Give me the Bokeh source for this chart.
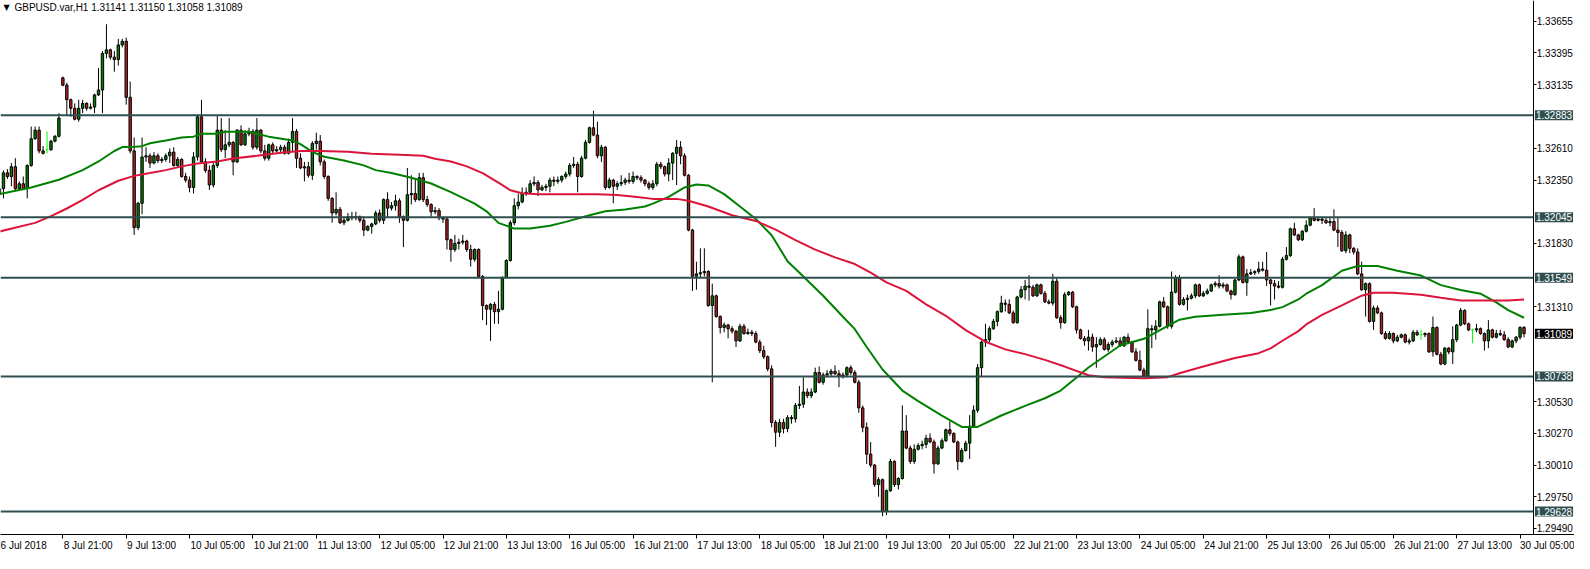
import numpy as np
from bokeh.plotting import figure
from bokeh.models import (ColumnDataSource, Range1d, FixedTicker, LinearAxis,
                          PrintfTickFormatter, Label)
from bokeh.embed import file_html
from bokeh.resources import INLINE

# GBPUSD H1 candles, 6 Jul 2018 05:00 .. 30 Jul 2018 06:00, prices in pips (1e-4)
opens = [
    13223, 13228, 13241, 13238, 13246, 13228, 13232, 13228, 13247, 13269,
    13276, 13259, 13260, 13260, 13267, 13271, 13319, 13313, 13301, 13294,
    13285, 13294, 13298, 13294, 13295, 13305, 13309, 13339, 13342, 13336,
    13334, 13346, 13349, 13303, 13259, 13196, 13216, 13254, 13255, 13249,
    13255, 13251, 13252, 13255, 13258, 13247, 13252, 13238, 13235, 13229,
    13254, 13287, 13250, 13243, 13231, 13247, 13276, 13260, 13264, 13266,
    13250, 13276, 13264, 13273, 13275, 13262, 13276, 13259, 13253, 13264,
    13259, 13260, 13262, 13257, 13266, 13275, 13253, 13245, 13246, 13239,
    13265, 13267, 13250, 13238, 13220, 13208, 13211, 13200, 13202, 13205,
    13204, 13205, 13202, 13194, 13197, 13199, 13208, 13202, 13219, 13212,
    13214, 13218, 13205, 13202, 13223, 13224, 13219, 13237, 13219, 13215,
    13209, 13210, 13204, 13203, 13186, 13178, 13183, 13184, 13185, 13178,
    13170, 13178, 13156, 13132, 13129, 13133, 13127, 13129, 13155, 13169,
    13200, 13214, 13217, 13224, 13225, 13232, 13233, 13227, 13229, 13230,
    13235, 13234, 13235, 13238, 13240, 13247, 13248, 13238, 13253, 13266,
    13278, 13272, 13255, 13262, 13229, 13235, 13230, 13232, 13233, 13235,
    13234, 13238, 13237, 13235, 13232, 13229, 13232, 13248, 13246, 13240,
    13249, 13257, 13262, 13255, 13239, 13194, 13156, 13158, 13159, 13160,
    13132, 13140, 13123, 13114, 13116, 13113, 13111, 13103, 13115, 13109,
    13110, 13109, 13102, 13095, 13090, 13080, 13036, 13028, 13036, 13031,
    13040, 13039, 13050, 13051, 13061, 13058, 13061, 13077, 13069, 13075,
    13076, 13078, 13076, 13074, 13075, 13081, 13077, 13069, 13048, 13032,
    13010, 13001, 12985, 12989, 12963, 12980, 13004, 12985, 12990, 13029,
    13015, 13004, 13014, 13017, 13018, 13023, 13020, 13002, 13015, 13021,
    13030, 13027, 13020, 13004, 13013, 13019, 13033, 13046, 13081, 13102,
    13104, 13113, 13119, 13127, 13134, 13133, 13126, 13118, 13139, 13145,
    13148, 13147, 13140, 13149, 13142, 13135, 13134, 13152, 13122, 13118,
    13141, 13143, 13131, 13112, 13105, 13103, 13106, 13098, 13100, 13104,
    13096, 13100, 13102, 13103, 13099, 13106, 13102, 13094, 13087, 13079,
    13074, 13113, 13112, 13115, 13135, 13131, 13115, 13143, 13155, 13133,
    13137, 13138, 13140, 13149, 13140, 13142, 13144, 13149, 13150, 13148,
    13149, 13144, 13141, 13153, 13172, 13151, 13158, 13159, 13160, 13162,
    13161, 13153, 13150, 13148, 13147, 13170, 13173, 13195, 13190, 13186,
    13193, 13198, 13204, 13202, 13203, 13202, 13200, 13201, 13194, 13192,
    13177, 13190, 13179, 13176, 13158, 13145, 13150, 13119, 13130, 13126,
    13109, 13105, 13109, 13103, 13106, 13108, 13102, 13103, 13110, 13108,
    13108, 13109, 13094, 13114, 13092, 13084, 13097, 13094, 13104, 13116,
    13128, 13117, 13112, 13112, 13113, 13109, 13103, 13112, 13106, 13109,
    13108, 13104, 13098, 13103, 13106, 13114.1,
]
highs = [
    13229, 13243, 13244, 13249, 13253, 13234, 13238, 13248, 13279, 13279,
    13279, 13263, 13275, 13268, 13272, 13290, 13320, 13315, 13302, 13298,
    13301, 13301, 13299, 13298, 13306, 13327, 13341, 13363, 13343, 13341,
    13351, 13351, 13352, 13316, 13270, 13217, 13270, 13262, 13257, 13258,
    13257, 13254, 13257, 13261, 13262, 13254, 13253, 13241, 13238, 13258,
    13288, 13301, 13253, 13247, 13249, 13288, 13286, 13276, 13286, 13267,
    13277, 13280, 13276, 13278, 13277, 13286, 13277, 13264, 13265, 13266,
    13263, 13264, 13264, 13269, 13286, 13277, 13257, 13250, 13250, 13267,
    13274, 13272, 13252, 13239, 13221, 13225, 13213, 13205, 13208, 13209,
    13209, 13206, 13205, 13198, 13200, 13210, 13211, 13220, 13225, 13217,
    13223, 13220, 13206, 13245, 13239, 13236, 13241, 13241, 13222, 13216,
    13213, 13212, 13205, 13205, 13187, 13190, 13187, 13190, 13186, 13182,
    13179, 13179, 13157, 13133, 13134, 13135, 13144, 13156, 13170, 13202,
    13220, 13224, 13229, 13229, 13235, 13238, 13235, 13231, 13232, 13237,
    13238, 13238, 13239, 13242, 13249, 13254, 13250, 13255, 13268, 13279,
    13292, 13283, 13264, 13263, 13237, 13236, 13234, 13239, 13237, 13241,
    13242, 13239, 13239, 13236, 13234, 13235, 13250, 13250, 13247, 13253,
    13258, 13268, 13267, 13257, 13240, 13195, 13168, 13179, 13179, 13161,
    13150, 13141, 13124, 13118, 13117, 13115, 13112, 13117, 13117, 13113,
    13112, 13111, 13104, 13099, 13091, 13083, 13038, 13039, 13039, 13042,
    13042, 13052, 13066, 13073, 13064, 13064, 13081, 13082, 13077, 13079,
    13080, 13083, 13079, 13077, 13082, 13083, 13079, 13071, 13050, 13036,
    13020, 13002, 12991, 12990, 12981, 13006, 13005, 12991, 13050, 13042,
    13017, 13018, 13019, 13021, 13026, 13027, 13022, 13017, 13023, 13031,
    13037, 13028, 13021, 13015, 13021, 13042, 13050, 13084, 13103, 13117,
    13115, 13121, 13128, 13140, 13137, 13137, 13128, 13140, 13148, 13153,
    13157, 13149, 13150, 13150, 13144, 13137, 13158, 13155, 13124, 13143,
    13144, 13144, 13132, 13113, 13107, 13112, 13109, 13106, 13106, 13106,
    13102, 13104, 13106, 13106, 13107, 13109, 13103, 13097, 13095, 13081,
    13129, 13116, 13120, 13136, 13139, 13132, 13160, 13157, 13157, 13139,
    13141, 13142, 13150, 13150, 13144, 13146, 13150, 13152, 13157, 13151,
    13150, 13145, 13154, 13174, 13173, 13162, 13162, 13161, 13168, 13168,
    13176, 13154, 13153, 13152, 13172, 13180, 13196, 13200, 13191, 13194,
    13202, 13205, 13212, 13205, 13205, 13204, 13204, 13211, 13204, 13194,
    13193, 13191, 13180, 13179, 13168, 13151, 13151, 13132, 13132, 13127,
    13111, 13111, 13110, 13108, 13109, 13109, 13105, 13112, 13112, 13112,
    13110, 13110, 13123, 13115, 13094, 13098, 13098, 13115, 13117, 13130,
    13129, 13118, 13113, 13117, 13114, 13110, 13120, 13113, 13112, 13112,
    13111, 13106, 13104, 13107, 13115, 13115.0,
]
lows = [
    13216, 13220, 13236, 13230, 13226, 13226, 13227, 13220, 13246, 13268,
    13257, 13256, 13257, 13259, 13266, 13270, 13312, 13288, 13287, 13284,
    13283, 13290, 13292, 13293, 13290, 13304, 13290, 13335, 13334, 13324,
    13329, 13344, 13297, 13257, 13190, 13194, 13207, 13250, 13245, 13248,
    13249, 13249, 13250, 13249, 13246, 13246, 13237, 13233, 13225, 13224,
    13251, 13249, 13241, 13227, 13229, 13245, 13258, 13253, 13262, 13239,
    13249, 13263, 13263, 13271, 13260, 13260, 13257, 13251, 13251, 13257,
    13258, 13257, 13256, 13256, 13259, 13245, 13244, 13234, 13237, 13235,
    13260, 13247, 13236, 13218, 13200, 13206, 13199, 13198, 13201, 13202,
    13202, 13200, 13189, 13193, 13191, 13198, 13200, 13199, 13204, 13210,
    13210, 13200, 13180, 13201, 13215, 13217, 13218, 13217, 13213, 13205,
    13207, 13202, 13200, 13178, 13168, 13176, 13178, 13182, 13176, 13164,
    13168, 13155, 13120, 13116, 13103, 13117, 13117, 13128, 13154, 13168,
    13198, 13211, 13216, 13222, 13224, 13230, 13222, 13226, 13226, 13225,
    13230, 13232, 13233, 13236, 13238, 13245, 13225, 13237, 13252, 13265,
    13271, 13253, 13250, 13227, 13228, 13216, 13227, 13230, 13231, 13232,
    13232, 13235, 13233, 13230, 13227, 13227, 13230, 13244, 13238, 13234,
    13235, 13231, 13248, 13238, 13193, 13144, 13145, 13155, 13156, 13131,
    13069, 13122, 13109, 13110, 13105, 13109, 13098, 13102, 13108, 13108,
    13107, 13101, 13093, 13088, 13078, 13032, 13016, 13024, 13027, 13028,
    13035, 13036, 13047, 13048, 13056, 13056, 13060, 13068, 13067, 13073,
    13074, 13075, 13065, 13072, 13073, 13075, 13068, 13044, 13028, 13002,
    12999, 12983, 12975, 12959, 12960, 12979, 12983, 12981, 12989, 13014,
    13002, 13002, 13013, 13014, 13015, 13019, 12994, 13001, 13014, 13020,
    13025, 13019, 12997, 13003, 13012, 13006, 13032, 13044, 13074, 13098,
    13102, 13112, 13115, 13126, 13127, 13125, 13117, 13117, 13138, 13137,
    13136, 13139, 13139, 13141, 13134, 13133, 13132, 13121, 13113, 13117,
    13140, 13130, 13109, 13104, 13099, 13095, 13094, 13081, 13099, 13095,
    13094, 13098, 13101, 13098, 13098, 13101, 13093, 13086, 13078, 13073,
    13072, 13097, 13104, 13114, 13130, 13113, 13113, 13142, 13132, 13132,
    13128, 13137, 13138, 13139, 13139, 13141, 13143, 13147, 13146, 13146,
    13143, 13137, 13140, 13152, 13150, 13140, 13157, 13157, 13158, 13160,
    13148, 13132, 13137, 13146, 13146, 13169, 13172, 13189, 13185, 13185,
    13192, 13197, 13201, 13201, 13199, 13199, 13197, 13193, 13180, 13176,
    13175, 13175, 13174, 13157, 13144, 13123, 13118, 13112, 13125, 13108,
    13104, 13104, 13101, 13102, 13105, 13101, 13100, 13102, 13107, 13104,
    13106, 13093, 13090, 13091, 13083, 13083, 13092, 13084, 13102, 13115,
    13116, 13111, 13101, 13110, 13108, 13095, 13097, 13105, 13105, 13107,
    13103, 13097, 13097, 13101, 13104, 13105.8,
]
closes = [
    13228, 13241, 13238, 13246, 13228, 13232, 13228, 13247, 13269, 13276,
    13259, 13257, 13260, 13267, 13271, 13286, 13313, 13301, 13294, 13285,
    13294, 13298, 13294, 13295, 13305, 13309, 13339, 13342, 13336, 13334,
    13346, 13349, 13303, 13259, 13196, 13216, 13254, 13255, 13249, 13255,
    13251, 13252, 13255, 13258, 13247, 13252, 13238, 13235, 13229, 13254,
    13287, 13250, 13243, 13231, 13247, 13276, 13260, 13264, 13266, 13250,
    13276, 13264, 13273, 13275, 13262, 13276, 13259, 13253, 13264, 13259,
    13260, 13262, 13257, 13266, 13275, 13253, 13245, 13246, 13239, 13265,
    13267, 13250, 13238, 13220, 13208, 13211, 13200, 13202, 13205, 13204,
    13205, 13202, 13194, 13197, 13199, 13208, 13202, 13219, 13212, 13214,
    13218, 13205, 13202, 13223, 13224, 13219, 13237, 13219, 13215, 13209,
    13210, 13204, 13203, 13186, 13178, 13183, 13184, 13185, 13178, 13170,
    13178, 13156, 13132, 13129, 13133, 13127, 13129, 13155, 13169, 13200,
    13214, 13217, 13224, 13225, 13232, 13233, 13227, 13229, 13230, 13235,
    13234, 13235, 13238, 13240, 13247, 13248, 13238, 13253, 13266, 13278,
    13272, 13255, 13262, 13229, 13235, 13230, 13232, 13233, 13235, 13234,
    13238, 13237, 13235, 13232, 13229, 13232, 13248, 13246, 13240, 13249,
    13257, 13262, 13255, 13239, 13194, 13156, 13158, 13159, 13160, 13132,
    13140, 13123, 13114, 13116, 13113, 13111, 13103, 13115, 13109, 13110,
    13109, 13102, 13095, 13090, 13080, 13036, 13028, 13036, 13031, 13040,
    13039, 13050, 13051, 13061, 13058, 13061, 13077, 13069, 13075, 13076,
    13078, 13076, 13074, 13075, 13081, 13077, 13069, 13048, 13032, 13010,
    13001, 12985, 12989, 12963, 12980, 13004, 12985, 12990, 13029, 13015,
    13004, 13014, 13017, 13018, 13023, 13020, 13002, 13015, 13021, 13030,
    13027, 13020, 13004, 13013, 13019, 13033, 13046, 13081, 13102, 13104,
    13113, 13119, 13127, 13134, 13133, 13126, 13118, 13139, 13145, 13148,
    13147, 13140, 13149, 13142, 13135, 13134, 13152, 13122, 13118, 13141,
    13143, 13131, 13112, 13105, 13103, 13106, 13098, 13100, 13104, 13096,
    13100, 13102, 13103, 13099, 13106, 13102, 13094, 13087, 13079, 13074,
    13113, 13112, 13115, 13135, 13131, 13115, 13143, 13155, 13133, 13137,
    13138, 13140, 13149, 13140, 13142, 13144, 13149, 13150, 13148, 13149,
    13144, 13141, 13153, 13172, 13151, 13158, 13159, 13160, 13162, 13161,
    13153, 13150, 13148, 13147, 13170, 13173, 13195, 13190, 13186, 13193,
    13198, 13204, 13202, 13203, 13202, 13200, 13201, 13194, 13192, 13177,
    13190, 13179, 13176, 13158, 13145, 13150, 13119, 13130, 13126, 13109,
    13105, 13109, 13103, 13106, 13108, 13102, 13103, 13110, 13108, 13108,
    13109, 13094, 13114, 13092, 13084, 13097, 13094, 13104, 13116, 13128,
    13117, 13112, 13112, 13113, 13109, 13103, 13112, 13106, 13109, 13108,
    13104, 13098, 13103, 13106, 13114, 13108.9,
]

# moving averages (green = fast, red = slow), read at bar positions
fast_bars = [0, 8, 15, 21, 25, 29, 31, 33, 36, 38, 42, 46, 49, 51, 55, 57, 63, 65, 68, 74,
             76, 79, 82, 87, 92, 95, 99, 104, 109, 114, 120, 123, 126, 130, 134, 139, 143, 149, 153, 158,
             163, 165, 169, 173, 176, 179, 183, 187, 191, 195, 199, 203, 208, 213, 216, 219, 223, 228, 232, 238,
             243, 247, 253, 259, 264, 268, 273, 275, 283, 289, 294, 298, 302, 309, 316, 321, 324, 328, 330, 334,
             339, 343, 348, 353, 359, 364, 369, 374, 378, 381, 385]
fast_ma = [13223.5, 13229.0, 13235.3, 13243.2, 13250.3, 13258.9, 13262.1, 13262.1, 13262.9, 13265.3,
           13267.6, 13270.0, 13270.7, 13273.1, 13273.1, 13274.7, 13274.7, 13273.1, 13270.7, 13267.6,
           13264.5, 13258.2, 13254.2, 13251.1, 13247.1, 13243.2, 13240.8, 13236.9, 13232.2, 13225.1,
           13215.7, 13209.4, 13199.9, 13195.2, 13195.2, 13197.5, 13200.7, 13206.2, 13209.4, 13210.9,
           13213.3, 13215.7, 13221.2, 13229.0, 13231.4, 13230.6, 13223.5, 13213.3, 13203.1, 13189.7,
           13168.4, 13155.8, 13140.1, 13122.8, 13112.6, 13098.0, 13079.5, 13062.2, 13053.5, 13041.7,
           13032.3, 13032.3, 13041.7, 13049.6, 13055.9, 13062.2, 13075.6, 13081.1, 13099.2, 13104.7,
           13113.4, 13120.4, 13122.8, 13124.4, 13125.9, 13128.3, 13130.7, 13137.0, 13141.7, 13148.8,
           13160.6, 13164.5, 13164.5, 13160.6, 13156.6, 13148.8, 13144.8, 13141.7, 13134.6, 13128.3,
           13122.0]
slow_bars = [0, 9, 13, 17, 21, 25, 30, 34, 38, 42, 46, 50, 55, 59, 65, 71, 76, 81, 88, 94,
             101, 107, 110, 114, 118, 122, 126, 129, 132, 136, 143, 151, 156, 161, 165, 171, 174, 179, 185, 191,
             196, 201, 206, 211, 216, 220, 224, 229, 234, 239, 244, 249, 254, 259, 264, 269, 275, 279, 289, 295,
             298, 304, 312, 318, 321, 324, 328, 330, 334, 339, 344, 347, 352, 359, 364, 369, 376, 381, 385]
slow_ma = [13192.8, 13199.9, 13205.4, 13211.7, 13218.8, 13226.7, 13234.5, 13238.5, 13240.8, 13243.2,
           13246.3, 13248.7, 13250.3, 13252.7, 13255.0, 13257.4, 13258.9, 13258.9, 13258.2, 13256.6,
           13255.8, 13255.0, 13252.6, 13250.3, 13246.3, 13240.8, 13233.0, 13226.7, 13224.3, 13223.5,
           13223.5, 13223.5, 13222.7, 13221.2, 13219.6, 13219.6, 13218.0, 13213.3, 13206.2, 13201.5,
           13194.4, 13185.8, 13177.9, 13171.6, 13166.1, 13159.0, 13151.1, 13144.0, 13133.0, 13123.6,
           13111.8, 13102.3, 13096.0, 13092.1, 13087.4, 13081.9, 13074.8, 13073.2, 13072.4, 13073.2,
           13076.4, 13081.9, 13089.0, 13092.9, 13096.8, 13103.1, 13111.0, 13116.5, 13124.4, 13132.2,
           13140.1, 13142.5, 13142.5, 13140.9, 13138.5, 13136.2, 13136.2, 13136.2, 13137.0]

levels = [1.32883, 1.32045, 1.31549, 1.30738, 1.29628]
last_price = 1.31089
# scale labels that stay readable next to the level boxes
price_ticks = [1.29490, 1.29750, 1.30010, 1.30270, 1.30530, 1.31310,
               1.31830, 1.32350, 1.32610, 1.33135, 1.33395, 1.33655]
time_bars = [0, 16, 32, 48, 64, 80, 96, 112, 128, 144, 160, 176, 192,
             208, 224, 240, 256, 272, 288, 304, 320, 336, 352, 368, 384]
time_labels = ["6 Jul 2018", "8 Jul 21:00", "9 Jul 13:00", "10 Jul 05:00", "10 Jul 21:00",
               "11 Jul 13:00", "12 Jul 05:00", "12 Jul 21:00", "13 Jul 13:00", "16 Jul 05:00",
               "16 Jul 21:00", "17 Jul 13:00", "18 Jul 05:00", "18 Jul 21:00", "19 Jul 13:00",
               "20 Jul 05:00", "22 Jul 21:00", "23 Jul 13:00", "24 Jul 05:00", "24 Jul 21:00",
               "25 Jul 13:00", "26 Jul 05:00", "26 Jul 21:00", "27 Jul 13:00", "30 Jul 05:00"]
title_text = "GBPUSD.var,H1  1.31141 1.31150 1.31058 1.31089"

PIP = 1e-4
FONT = "Liberation Sans"
W, H = 1574, 553
X0, X1, XE = 0.25, 387.5, 397.75      # view start, price-scale line, right edge (bars)
Y0, Y1 = 1.29440, 1.33825
PXB = W / (XE - X0)                   # pixels per bar

o = np.array(opens) * PIP
h = np.array(highs) * PIP
l = np.array(lows) * PIP
c = np.array(closes) * PIP
idx = np.arange(len(c))
doji = o == c
up = c > o

p = figure(width=W, height=H, x_range=Range1d(X0, XE), y_range=Range1d(Y0, Y1),
           y_axis_location="left", output_backend="svg", toolbar_location=None,
           min_border=0)
p.grid.visible = False
p.outline_line_color = None
p.background_fill_color = "white"
p.border_fill_color = "white"

# price scale: drawn at the right end of the chart, labels pushed to its right
p.yaxis.fixed_location = X1
p.yaxis.ticker = FixedTicker(ticks=price_ticks)
p.yaxis.formatter = PrintfTickFormatter(format="%.5f")
p.yaxis.major_tick_out = 0
p.yaxis.major_tick_in = 3
p.yaxis.minor_tick_out = 0
p.yaxis.minor_tick_in = 0
p.yaxis.major_label_standoff = -39
p.yaxis.major_label_text_font = FONT
p.yaxis.major_label_text_font_size = "10px"
p.yaxis.major_label_text_color = "black"
p.yaxis.axis_line_color = "black"

# time scale: tick marks on the main axis, labels left-aligned to the ticks on a second axis
p.xaxis.ticker = FixedTicker(ticks=time_bars[1:])
p.xaxis.major_label_overrides = {t: "" for t in time_bars[1:]}
p.xaxis.major_label_text_font_size = "0px"
p.xaxis.major_label_standoff = 0
p.xaxis.major_tick_out = 4
p.xaxis.major_tick_in = 0
p.xaxis.minor_tick_out = 0
p.xaxis.axis_line_color = "black"

CW = {" ": 278, ":": 278, "J": 500, "u": 556, "l": 222}
def text_px(s, size=10):
    return size * sum(CW.get(ch, 556) for ch in s) / 1000

lab_ticks, lab_over = [], {}
for t, s in zip(time_bars, time_labels):
    k = int(round(10 * (t + (text_px(s) / 2 + 1) / PXB)))
    lab_ticks.append(k)
    lab_over[k] = s
p.extra_x_ranges = {"lab": Range1d(10 * X0, 10 * XE)}
lab_axis = LinearAxis(x_range_name="lab", ticker=FixedTicker(ticks=lab_ticks),
                      major_label_overrides=lab_over, axis_line_color=None,
                      major_tick_line_color=None, minor_tick_line_color=None,
                      major_tick_out=0, major_tick_in=0, minor_tick_out=0, minor_tick_in=0,
                      major_label_standoff=1, major_label_text_font=FONT,
                      major_label_text_font_size="10px", major_label_text_color="black")
p.add_layout(lab_axis, "below")

# candles
nd = ~doji
p.segment(x0=idx[nd], y0=l[nd], x1=idx[nd], y1=h[nd], line_color="black", line_width=1)
body = ColumnDataSource(dict(x=idx[nd], top=np.maximum(o, c)[nd], bottom=np.minimum(o, c)[nd],
                             fill=np.where(up, "#008000", "#B22222")[nd]))
p.vbar(x="x", width=0.6, top="top", bottom="bottom", fill_color="fill",
       line_color="black", line_width=1, source=body)
p.segment(x0=idx[doji], y0=l[doji], x1=idx[doji], y1=h[doji], line_color="#00FF00", line_width=1)
p.segment(x0=idx[doji] - 0.35, y0=o[doji], x1=idx[doji] + 0.35, y1=o[doji],
          line_color="#00FF00", line_width=1)

p.line(fast_bars, np.array(fast_ma) * PIP, line_color="#008000", line_width=2)
p.line(slow_bars, np.array(slow_ma) * PIP, line_color="#DC143C", line_width=2)

# horizontal levels and their price boxes on the scale
p.segment(x0=[X0] * len(levels), y0=levels, x1=[X1] * len(levels), y1=levels,
          line_color="#2F4F4F", line_width=2)
for lv in levels:
    p.add_layout(Label(x=X1, y=lv, x_offset=1, text=f"{lv:.5f}", text_align="left",
                       text_baseline="middle", text_color="white", text_font=FONT,
                       text_font_size="10px", background_fill_color="#2F4F4F", padding=1,
                       level="overlay"))
p.add_layout(Label(x=X1, y=last_price, x_offset=1, text=f"{last_price:.5f}", text_align="left",
                   text_baseline="middle", text_color="white", text_font=FONT,
                   text_font_size="10px", background_fill_color="black", padding=1,
                   level="overlay"))

p.add_layout(Label(x=X0, y=Y1, x_offset=3, y_offset=-7, text="\u25bc", text_baseline="middle",
                   text_font="DejaVu Sans", text_font_size="8px", text_color="black"))
p.add_layout(Label(x=X0, y=Y1, x_offset=14, y_offset=-7, text=title_text, text_baseline="middle",
                   text_font=FONT, text_font_size="10px", text_color="black"))

open("out.html", "w").write(file_html(p, INLINE))
